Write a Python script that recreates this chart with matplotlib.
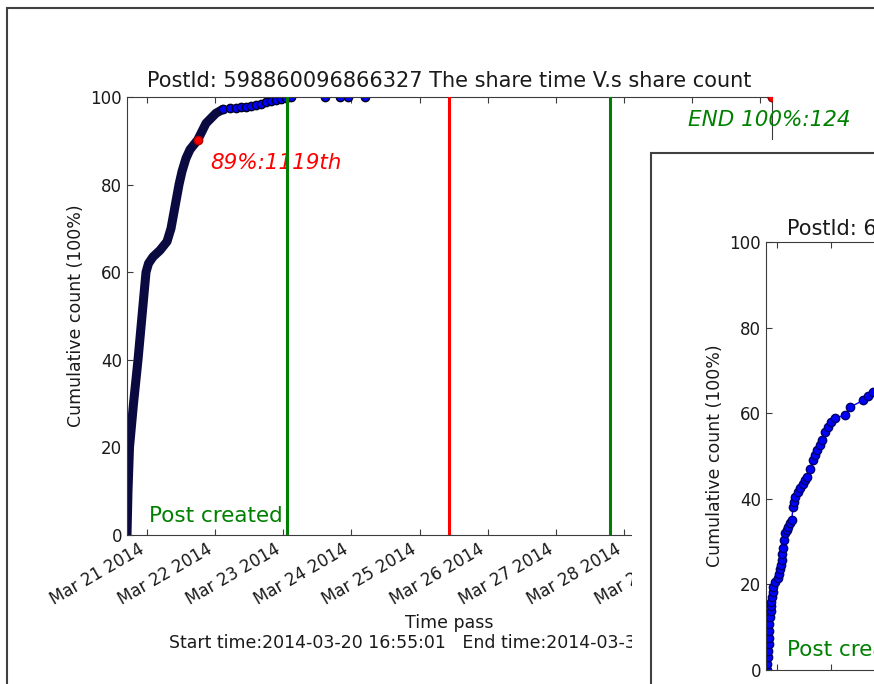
import matplotlib
matplotlib.use("Agg")
import matplotlib.pyplot as plt
import matplotlib.dates as mdates
from matplotlib.patches import Rectangle
from datetime import datetime, timedelta

# ---------------- data ----------------
start_time = datetime(2014, 3, 20, 16, 55, 1)
title_main = "PostId: 598860096866327 The share time V.s share count"
xlabel_main = "Time pass\nStart time:2014-03-20 16:55:01   End time:2014-03-30 04:13:19"
ylabel = "Cumulative count (100%)"

# dense part of the cumulative curve (hours since start, percent)
dense_hours = [0.0, 0.35, 0.88, 2.29, 3.88, 5.29, 5.99, 6.70, 7.58, 9.16, 11.63,
               14.10, 15.51, 16.92, 18.33, 19.38, 20.79, 22.20, 24.92, 27.85,
               31.36, 33.83]
dense_pct = [0, 10, 20, 30, 40, 50, 55, 60, 62, 63.5, 65,
             67, 70, 75, 80, 83, 86, 88, 90.2, 94.0,
             96.3, 97.2]
# sparse tail (hours since start, percent)
tail_hours = [33.83, 36.3, 38.4, 40.2, 41.9, 43.7, 45.5, 47.2, 49.0, 50.8,
              52.5, 54.3, 56.0, 57.8, 69.8, 75.1, 77.9, 83.9, 227.3]
tail_pct = [97.2, 97.4, 97.5, 97.7, 97.8, 98.0, 98.2, 98.5, 98.8, 99.1,
            99.4, 99.6, 99.8, 100, 100, 100, 100, 100, 100]

mark89_hours, mark89_pct = 24.92, 90.2
end_hours, end_pct = 227.3, 100
green_lines_hours = [56.4, 170.2]
red_line_hours = [113.3]

# second (partially hidden) chart
inset_x = [-0.185, -0.176, -0.167, -0.162, -0.157, -0.152, -0.148, -0.139, -0.130,
           -0.120, -0.111, -0.102, -0.093, -0.081, -0.069, -0.037, 0.024, 0.040,
           0.056, 0.072, 0.087, 0.100, 0.111, 0.130, 0.148, 0.176, 0.204, 0.240,
           0.272, 0.296, 0.315, 0.333, 0.380, 0.426, 0.481, 0.520, 0.550, 0.611,
           0.667, 0.700, 0.741, 0.790, 0.828, 0.889, 0.944, 1.000, 1.074, 1.259,
           1.352, 1.593, 1.685, 1.778]
inset_pct = [0, 1.5, 3, 4.5, 6, 7.5, 9, 10.7, 12.4,
             13.7, 15, 16, 17, 18.3, 19.5, 20.5, 21.5, 22.5,
             23.5, 24.6, 25.7, 27, 28.5, 30.3, 32, 32.8, 33.5, 34.3,
             35, 38, 39.2, 40.4, 41.5, 42.5, 43.5, 44.3, 45, 47,
             49, 50.3, 51.5, 52.6, 53.7, 55.5, 56.8, 58, 58.8, 59.6,
             61.4, 63, 64, 65]

# ---------------- figure ----------------
W, H = 874, 684
fig = plt.figure(figsize=(W / 100, H / 100), dpi=100)
fig.patch.set_facecolor("white")


def fx(px):
    return px / W


def fy(py):
    return 1 - py / H


spine_col = "#3c3c3c"
text_col = "#1a1a1a"
ann_size = 15.5

ax = fig.add_axes([fx(127), fy(535), fx(772) - fx(127), fy(97) - fy(535)])


def to_dt(hours):
    return [start_time + timedelta(hours=h) for h in hours]


ax.plot(to_dt(dense_hours), dense_pct, color="#0a0a40", lw=6.5,
        solid_capstyle="round", solid_joinstyle="round", zorder=2)
ax.plot(to_dt(tail_hours), tail_pct, "o-", color="blue", lw=1,
        mfc="blue", mec="#000020", ms=6, mew=1, zorder=2)
ax.plot(to_dt([mark89_hours]), [mark89_pct], "o", color="red", mec="#aa0000",
        ms=6, zorder=3)
ax.plot(to_dt([end_hours]), [end_pct], "o", color="red", mec="#aa0000",
        ms=6, zorder=3)

for h in green_lines_hours:
    ax.axvline(start_time + timedelta(hours=h), color="green", lw=2.2, zorder=4)
for h in red_line_hours:
    ax.axvline(start_time + timedelta(hours=h), color="red", lw=2.2, zorder=4)

ax.text(start_time + timedelta(hours=54.98), 4.3, "Post created", color="green",
        fontsize=ann_size, ha="right", va="center")
ax.text(start_time + timedelta(hours=29.25), 84.9, "89%:1119th", color="red",
        fontsize=ann_size, style="italic", ha="left", va="center")
ax.text(start_time + timedelta(hours=197.7), 94.7, "END 100%:1240th", color="green",
        fontsize=ann_size, style="italic", ha="left", va="center", clip_on=False)

ax.set_xlim(start_time, start_time + timedelta(hours=end_hours))
ax.set_ylim(0, 100)
ax.set_yticks([0, 20, 40, 60, 80, 100])
ax.xaxis.set_major_locator(mdates.DayLocator())
ax.xaxis.set_major_formatter(mdates.DateFormatter("%b %d %Y"))
ax.tick_params(direction="in", length=4, top=True, right=True, labelsize=12,
               labelcolor=text_col, color=spine_col)
plt.setp(ax.get_xticklabels(), rotation=30, ha="right")
for s in ax.spines.values():
    s.set_color(spine_col)
ax.set_title(title_main, fontsize=15, color=text_col, pad=7)
ax.set_xlabel(xlabel_main, fontsize=12.5, color=text_col, linespacing=1.2)
ax.set_ylabel(ylabel, fontsize=12.5, color=text_col)

# ---------------- window overlays ----------------
fig.add_artist(Rectangle((fx(7), -0.5), 2, fy(8) + 0.5, transform=fig.transFigure,
                         fill=False, ec="#404040", lw=1.5, zorder=1))
fig.add_artist(Rectangle((fx(632), -0.5), 2, fy(140) + 0.5, transform=fig.transFigure,
                         fc="white", ec="none", zorder=4))
fig.add_artist(Rectangle((fx(851), fy(152)), 1, fy(95) - fy(152), transform=fig.transFigure,
                         fc="white", ec="none", zorder=4))
fig.add_artist(Rectangle((fx(651), -0.5), 2, fy(153) + 0.5, transform=fig.transFigure,
                         fc="white", ec="#404040", lw=1.5, zorder=5))

# ---------------- second chart ----------------
ax2 = fig.add_axes([fx(766), fy(670), fx(645), fy(242) - fy(670)])
ax2.set_zorder(10)
ax2.plot(inset_x, inset_pct, "o-", color="blue", lw=1, mfc="blue", mec="#00006a",
         ms=6, mew=1)
ax2.set_xlim(-0.2037, -0.2037 + 645 / 54)
ax2.set_ylim(0, 100)
ax2.set_yticks([0, 20, 40, 60, 80, 100])
ax2.set_xticks(range(0, 12))
ax2.set_xticklabels([])
ax2.tick_params(direction="in", length=4, top=True, right=True, labelsize=12,
                labelcolor=text_col, color=spine_col)
for s in ax2.spines.values():
    s.set_color(spine_col)
ax2.set_ylabel(ylabel, fontsize=12.5, color=text_col)
ax2.text(0.185, 4.7, "Post created", color="green", fontsize=ann_size, ha="left",
         va="center", clip_on=True)
fig.text(fx(787), fy(235), "PostId: 6", fontsize=15, color=text_col,
         ha="left", va="baseline", zorder=11)

fig.savefig("out.png", dpi=100, facecolor="white")
